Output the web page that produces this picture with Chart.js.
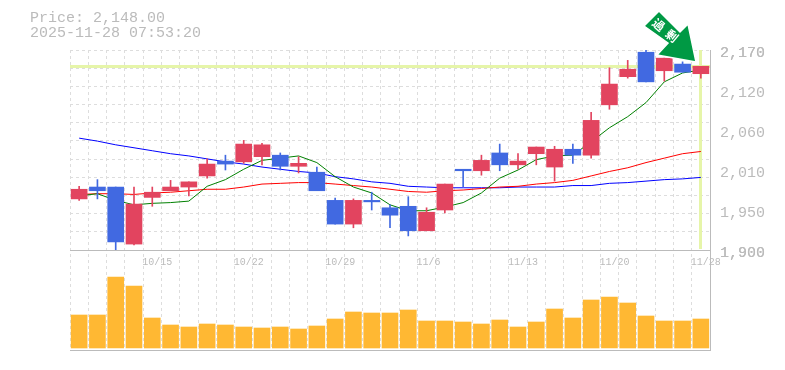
<!DOCTYPE html>
<html>
<head>
<meta charset="utf-8">
<style>
  html, body { margin: 0; padding: 0; background: #fff; }
  #wrap { position: relative; width: 785px; height: 370px; overflow: hidden; }
  #myChart { position: absolute; left: 0; top: 0; }
  #info { position: absolute; left: 30px; top: 11px; font: 15px/15px "Liberation Mono", monospace; color: #bbb; white-space: pre; }
  #badge { position: absolute; left: 0; top: 0; }
</style>
</head>
<body>
<div id="wrap">
  <canvas id="myChart" width="785" height="370"></canvas>
  <div id="info">Price: 2,148.00
2025-11-28 07:53:20</div>
  <svg id="badge" width="785" height="370">
    <polygon points="659,11 644,26 668,43 657,55 696,62 688,24 680,32" fill="#009944" stroke="#fff" stroke-width="1.5"/>
    <text x="666.5" y="33" transform="rotate(40 666.5 33)" text-anchor="middle" dominant-baseline="middle" font-family="Noto Sans CJK JP" font-weight="700" font-size="12" fill="#fff" letter-spacing="5">過剰</text>
  </svg>
</div>
<script src="https://cdn.jsdelivr.net/npm/chart.js@4"></script>
<script>
const dates = ['10/8','10/9','10/10','10/14','10/15','10/16','10/17','10/20','10/21','10/22','10/23','10/24','10/27','10/28','10/29','10/30','10/31','11/4','11/5','11/6','11/7','11/10','11/11','11/12','11/13','11/14','11/17','11/18','11/19','11/20','11/21','11/25','11/26','11/27','11/28'];
const shownDates = ['10/15','10/22','10/29','11/6','11/13','11/20','11/28'];
const open = [1969,1985,1985,1908,1971,1980,1985,2000,2020,2019,2026,2028,2013,2005,1967,1935,1967,1957,1959,1926,1954,2009,2007,2031,2015,2030,2012,2036,2028,2096,2134,2167,2142,2151,2138];
const close = [1982,1980,1911,1962,1978,1985,1992,2016,2016,2043,2042,2013,2017,1980,1935,1967,1965,1947,1926,1951,1989,2007,2021,2015,2020,2039,2036,2028,2075,2124,2144,2127,2159,2140,2148];
const high = [1986,1995,1985,1985,1985,1994,1992,2023,2028,2048,2044,2031,2026,2012,1970,1969,1978,1961,1972,1957,1989,2009,2028,2043,2030,2039,2040,2043,2086,2146,2156,2170,2159,2154,2148];
const low = [1967,1969,1899,1907,1959,1980,1973,1997,2008,2017,2015,2008,2004,1980,1935,1930,1954,1930,1919,1926,1950,1985,2001,2007,2009,2015,1993,2017,2024,2090,2132,2127,2128,2140,2132];
const volume = [33,33,71,62,30,23,21,24,23,21,20,21,19,22,29,36,35,35,38,27,27,26,24,28,21,26,39,30,48,51,45,32,27,27,29];
const maShort = [1973,1976,1967,1961,1963,1964,1966,1986,1995,2009,2021,2024,2027,2018,1999,1985,1977,1961,1953,1953,1958,1964,1977,1997,2008,2022,2027,2028,2046,2065,2080,2099,2127,2139,2143];
const maMid = [1975,1976,1976,1975,1977,1978,1980,1982,1982,1985,1989,1990,1991,1991,1989,1987,1985,1982,1979,1978,1980,1981,1983,1985,1986,1989,1991,1994,2000,2006,2011,2018,2024,2030,2033];
const maLong = [2051,2047,2042,2038,2034,2030,2027,2023,2019,2016,2012,2009,2006,2004,1999,1996,1992,1990,1986,1985,1984,1984,1984,1984,1985,1985,1985,1987,1987,1990,1991,1993,1995,1996,1998];
const priceTicks = [1900,1954,2008,2062,2116,2170];
const priceLabels = ['1,900','1,950','2,010','2,060','2,120','2,170'];
const currentPrice = 2148;

const priceMin = 1900;
const priceMax = 2170;
const gridCount = 11;
const UP = '#e2445f';
const DOWN = '#4169e1';
const FRAME = '#bbb';

function candleColor(i) {
  return close[i] >= open[i] ? UP : DOWN;
}

// pale cross for the latest price plus the solid frame lines, all under the candles
const crosshair = {
  id: 'crosshair',
  beforeDatasetsDraw(chart) {
    const x = chart.scales.x;
    const y = chart.scales.y;
    const vol = chart.scales.yVol;
    const ctx = chart.ctx;
    ctx.save();
    ctx.fillStyle = '#e6f5a9';
    ctx.fillRect(x.left, Math.round(y.getPixelForValue(currentPrice)) - 1, x.right - x.left, 3);
    ctx.fillRect(Math.round(x.getPixelForValue(dates.length - 1)) - 2, y.top, 3, y.bottom - y.top - 1);
    ctx.fillStyle = FRAME;
    ctx.fillRect(x.left, y.bottom, x.right - x.left + 1, 1);
    ctx.fillRect(x.left, vol.bottom, x.right - x.left + 1, 1);
    ctx.fillRect(x.right, y.top, 1, vol.bottom - y.top);
    ctx.restore();
  }
};

new Chart(document.getElementById('myChart'), {
  data: {
    labels: dates,
    datasets: [
      { type: 'bar', label: 'body', yAxisID: 'y', order: 1, grouped: false, barThickness: 16,
        data: open.map((o, i) => [o, close[i]]),
        backgroundColor: dates.map((d, i) => candleColor(i)) },
      { type: 'bar', label: 'wick', yAxisID: 'y', order: 1, grouped: false, barThickness: 1,
        data: low.map((l, i) => [l, high[i]]),
        backgroundColor: dates.map((d, i) => candleColor(i)) },
      { type: 'line', label: 'short', yAxisID: 'y', order: 2, data: maShort, borderColor: '#008000', borderWidth: 1, pointRadius: 0, tension: 0 },
      { type: 'line', label: 'mid', yAxisID: 'y', order: 3, data: maMid, borderColor: '#ff0000', borderWidth: 1, pointRadius: 0, tension: 0 },
      { type: 'line', label: 'long', yAxisID: 'y', order: 4, data: maLong, borderColor: '#0000ff', borderWidth: 1, pointRadius: 0, tension: 0 },
      { type: 'bar', label: 'volume', yAxisID: 'yVol', order: 5, grouped: false, barThickness: 16, data: volume, backgroundColor: '#ffb833' }
    ]
  },
  plugins: [crosshair],
  options: {
    responsive: false,
    animation: false,
    layout: { padding: { left: 70, top: 50, right: 0, bottom: 20 } },
    plugins: { legend: { display: false }, tooltip: { enabled: false } },
    scales: {
      x: {
        type: 'category',
        position: { y: priceMin },
        offset: true,
        grid: { offset: true, color: '#ddd', drawTicks: false },
        border: { display: false, dash: [3, 3] },
        ticks: {
          autoSkip: false, maxRotation: 0, align: 'start', labelOffset: -10, padding: 6,
          color: '#bbb', font: { family: 'Liberation Mono', size: 10 },
          callback(v, i) {
            return shownDates.includes(dates[i]) ? dates[i] : '';
          }
        }
      },
      y: {
        position: 'right', stack: 'panes', stackWeight: 2, min: priceMin, max: priceMax,
        // gridlines and price labels do not share positions, so both sets go in and get told apart here
        afterBuildTicks(scale) {
          const t = priceTicks.map(v => ({ value: v, isLabel: true, isGrid: false }));
          for (let i = 0; i <= gridCount; i++) {
            t.push({ value: priceMin + (priceMax - priceMin) * i / gridCount, isGrid: true });
          }
          scale.ticks = t;
        },
        afterFit(scale) { scale.width = 75; },
        grid: { color: ctx => (ctx.tick && ctx.tick.isGrid ? '#ddd' : 'transparent'), drawTicks: false },
        border: { display: false, dash: [3, 3] },
        ticks: {
          padding: 10, labelOffset: 3, autoSkip: false,
          color: '#bbb', font: { family: 'Liberation Mono', size: 15 },
          callback(v) {
            const i = priceTicks.indexOf(v);
            return i >= 0 ? priceLabels[i] : '';
          }
        }
      },
      yVol: {
        position: 'right', stack: 'panes', stackWeight: 1, min: -2, max: 98,
        grid: { display: false },
        border: { display: false },
        ticks: { display: false },
        afterFit(scale) { scale.width = 75; }
      }
    }
  }
});
</script>
</body>
</html>
